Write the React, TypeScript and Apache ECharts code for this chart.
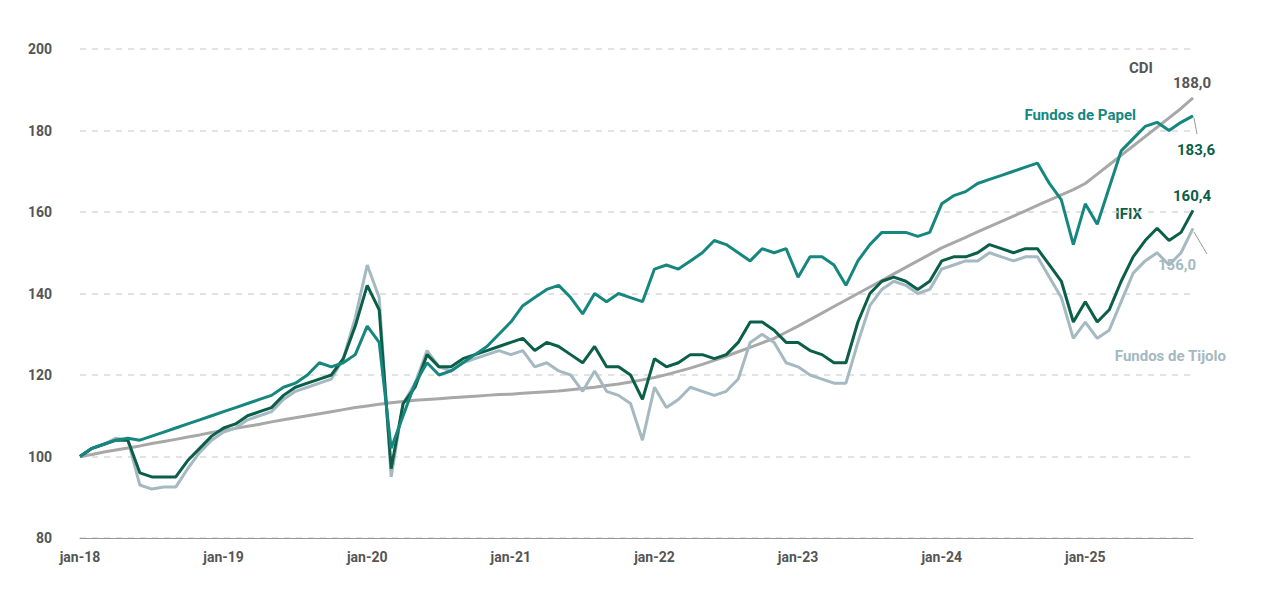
import React, { useEffect, useRef } from 'react';
import * as echarts from 'echarts';

const monthNames = ['jan', 'fev', 'mar', 'abr', 'mai', 'jun', 'jul', 'ago', 'set', 'out', 'nov', 'dez'];
const years = ['18', '19', '20', '21', '22', '23', '24', '25'];
const months: string[] = [];
years.forEach((y) => monthNames.forEach((m) => months.push(`${m}-${y}`)));
const categories = months.slice(0, 94); // jan-18 .. out-25

const papel = [
  100, 102, 103, 104, 104.5, 104, 105, 106, 107, 108, 109, 110,
  111, 112, 113, 114, 115, 117, 118, 120, 123, 122, 123, 125,
  132, 128, 102, 110, 118, 123, 120, 121, 123, 125, 127, 130,
  133, 137, 139, 141, 142, 139, 135, 140, 138, 140, 139, 138,
  146, 147, 146, 148, 150, 153, 152, 150, 148, 151, 150, 151,
  144, 149, 149, 147, 142, 148, 152, 155, 155, 155, 154, 155,
  162, 164, 165, 167, 168, 169, 170, 171, 172, 167, 163, 152,
  162, 157, 166, 175, 178, 181, 182, 180, 182, 183.6,
];
const ifix = [
  100, 102, 103, 104, 104, 96, 95, 95, 95, 99, 102, 105,
  107, 108, 110, 111, 112, 115, 117, 118, 119, 120, 124, 132,
  142, 136, 97, 113, 117, 125, 122, 122, 124, 125, 126, 127,
  128, 129, 126, 128, 127, 125, 123, 127, 122, 122, 120, 114,
  124, 122, 123, 125, 125, 124, 125, 128, 133, 133, 131, 128,
  128, 126, 125, 123, 123, 133, 140, 143, 144, 143, 141, 143,
  148, 149, 149, 150, 152, 151, 150, 151, 151, 147, 143, 133,
  138, 133, 136, 143, 149, 153, 156, 153, 155, 160.4,
];
const tijolo = [
  100, 102, 103, 104.5, 104, 93, 92, 92.5, 92.5, 97, 101, 104,
  106, 107, 109, 110, 111, 114, 116, 117, 118, 119, 124, 134,
  147, 139, 95, 113, 118, 126, 122, 121, 123, 124, 125, 126,
  125, 126, 122, 123, 121, 120, 116, 121, 116, 115, 113, 104,
  117, 112, 114, 117, 116, 115, 116, 119, 128, 130, 128, 123,
  122, 120, 119, 118, 118, 128, 137, 141, 143, 142, 140, 141,
  146, 147, 148, 148, 150, 149, 148, 149, 149, 144, 139, 129,
  133, 129, 131, 138, 145, 148, 150, 147, 150, 156.0,
];
const cdi = [
  100, 100.5, 101.1, 101.6, 102.1, 102.6, 103.2, 103.7, 104.2, 104.8, 105.3, 105.9,
  106.4, 106.9, 107.4, 107.9, 108.5, 109.0, 109.5, 110.0, 110.5, 111.0, 111.5, 112.0,
  112.4, 112.8, 113.2, 113.5, 113.8, 114.0, 114.2, 114.4, 114.6, 114.8, 115.0, 115.2,
  115.3, 115.5, 115.7, 115.9, 116.1, 116.4, 116.7, 117.0, 117.4, 117.8, 118.3, 118.8,
  119.4, 120.1, 120.9, 121.7, 122.6, 123.6, 124.6, 125.7, 126.8, 127.9, 129.0, 130.5,
  132, 133.6, 135.2, 136.8, 138.4, 140, 141.6, 143.2, 144.8, 146.4, 148, 149.6,
  151.2, 152.5, 153.8, 155.1, 156.4, 157.7, 159.0, 160.3, 161.6, 162.9, 164.2, 165.5,
  167, 169.3, 171.6, 173.9, 176.2, 178.5, 180.8, 183.1, 185.4, 188.0,
];

const C_PAPEL = '#16877f';
const C_IFIX = '#0b5e48';
const C_TIJOLO = '#a4b9c1';
const C_CDI = '#a8a8a8';

const txt = (x: number, y: number, text: string, fill: string, align = 'left') => ({
  type: 'text',
  x,
  y,
  style: { text, fill, font: 'bold 15px Roboto', textAlign: align, textVerticalAlign: 'middle' },
});

const App: React.FC = () => {
  const ref = useRef<HTMLDivElement>(null);

  useEffect(() => {
    if (!ref.current) return;
    const chart = echarts.init(ref.current, undefined, { renderer: 'svg' });
    const line = (name: string, data: number[], color: string, width: number, z: number) => ({
      name,
      type: 'line',
      data,
      symbol: 'none',
      z,
      lineStyle: { color, width },
    });
    chart.setOption({
      animation: false,
      grid: { left: 72, right: 77, top: 41, bottom: 62 },
      xAxis: {
        type: 'category',
        data: categories,
        boundaryGap: false,
        axisLine: { lineStyle: { color: '#999' } },
        axisTick: { show: false },
        axisLabel: {
          interval: (i: number) => i % 12 === 0,
          color: '#555',
          fontFamily: 'Roboto',
          fontWeight: 'bold',
          fontSize: 14,
          margin: 12,
        },
      },
      yAxis: {
        type: 'value',
        min: 80,
        max: 200,
        interval: 20,
        axisLabel: { color: '#555', fontFamily: 'Roboto', fontWeight: 'bold', fontSize: 14, margin: 28 },
        splitLine: { lineStyle: { color: '#d9d9d9', type: [6, 6], width: 1.5 } },
      },
      series: [
        line('CDI', cdi, C_CDI, 3, 1),
        line('Fundos de Tijolo', tijolo, C_TIJOLO, 3, 2),
        line('IFIX', ifix, C_IFIX, 3, 3),
        line('Fundos de Papel', papel, C_PAPEL, 3, 4),
      ],
      graphic: [
        txt(1145, 60, 'CDI', '#555', 'right'),
        txt(1165, 75, '188,0', '#555'),
        txt(1128, 107, 'Fundos de Papel', C_PAPEL, 'right'),
        { type: 'line', shape: { x1: 1186, y1: 110, x2: 1189, y2: 126 }, style: { stroke: '#999', lineWidth: 1 } },
        txt(1169, 142, '183,6', C_IFIX),
        txt(1165, 188, '160,4', C_IFIX),
        txt(1134, 206, 'IFIX', C_IFIX, 'right'),
        { type: 'line', shape: { x1: 1186, y1: 224, x2: 1199, y2: 246 }, style: { stroke: '#999', lineWidth: 1 } },
        txt(1150, 257, '156,0', C_TIJOLO),
        txt(1218, 348, 'Fundos de Tijolo', C_TIJOLO, 'right'),
      ],
    });
    return () => chart.dispose();
  }, []);

  return <div ref={ref} style={{ width: 1262, height: 592 }} />;
};

export default App;
